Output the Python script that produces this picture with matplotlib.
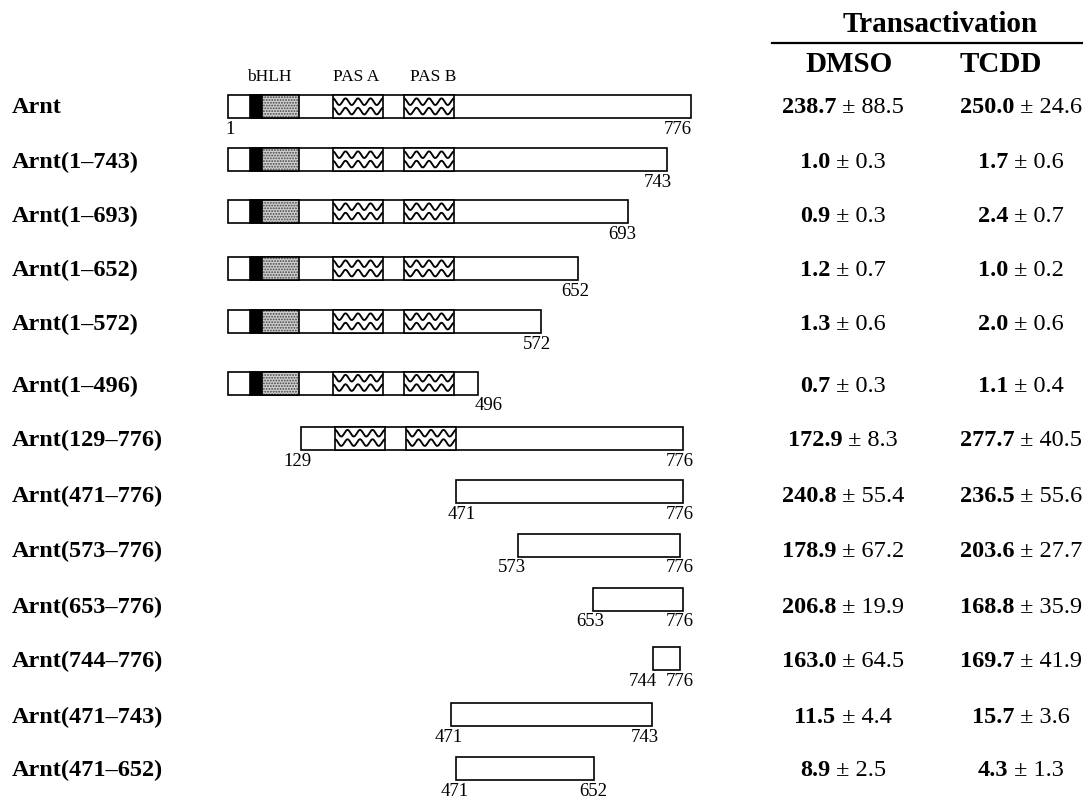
import numpy as np
import matplotlib
matplotlib.use("Agg")
import matplotlib.pyplot as plt

# ---------------- data ----------------
names = ["Arnt", "Arnt(1\u2013743)", "Arnt(1\u2013693)", "Arnt(1\u2013652)", "Arnt(1\u2013572)",
         "Arnt(1\u2013496)", "Arnt(129\u2013776)", "Arnt(471\u2013776)", "Arnt(573\u2013776)",
         "Arnt(653\u2013776)", "Arnt(744\u2013776)", "Arnt(471\u2013743)", "Arnt(471\u2013652)"]
res_start = [1, 1, 1, 1, 1, 1, 129, 471, 573, 653, 744, 471, 471]
res_end = [776, 743, 693, 652, 572, 496, 776, 776, 776, 776, 776, 743, 652]
show_start = [True, False, False, False, False, False, True, True, True, True, True, True, True]
dmso_mean = [238.7, 1.0, 0.9, 1.2, 1.3, 0.7, 172.9, 240.8, 178.9, 206.8, 163.0, 11.5, 8.9]
dmso_sd = [88.5, 0.3, 0.3, 0.7, 0.6, 0.3, 8.3, 55.4, 67.2, 19.9, 64.5, 4.4, 2.5]
tcdd_mean = [250.0, 1.7, 2.4, 1.0, 2.0, 1.1, 277.7, 236.5, 203.6, 168.8, 169.7, 15.7, 4.3]
tcdd_sd = [24.6, 0.6, 0.7, 0.2, 0.6, 0.4, 40.5, 55.6, 27.7, 35.9, 41.9, 3.6, 1.3]
domain_names = ["bHLH", "PAS A", "PAS B"]

# ---------------- layout (schematic, not to scale) ----------------
W, H = 1083, 798
row_y = [106.5, 159.5, 211.5, 268.5, 321.5, 383, 438, 491.5, 545, 599, 658.5, 714, 768.5]
text_y = [105, 160, 214, 268, 322, 384, 438, 494, 549, 605, 659, 715, 768]
draw_left = [228, 228, 228, 228, 228, 228, 301, 456, 518, 593, 653, 451, 456]
draw_right = [691, 667, 628, 578, 541, 478, 683, 683, 680, 683, 680, 652, 594]
left_lab_x = [230, 0, 0, 0, 0, 0, 297, 462, 512, 590, 643, 449, 455]
right_lab_x = [678, 658, 622, 575, 537, 489, 680, 680, 680, 680, 680, 645, 593]
blk = (250, 262)
stip = (262, 299)
pas_a = (333, 383)
pas_b = (404, 454)
bar_h = 23

SERIF = ["Liberation Serif", "DejaVu Serif"]
plt.rcParams["font.family"] = SERIF
plt.rcParams["hatch.linewidth"] = 0.9

fig = plt.figure(figsize=(W / 100, H / 100), dpi=100)
ax = fig.add_axes([0, 0, 1, 1])
ax.set_xlim(0, W)
ax.set_ylim(H, 0)
ax.axis("off")

LW = 1.2

def waves(x0, x1, yc):
    xs = np.linspace(x0, x1, 300)
    per = (x1 - x0) / 4.0
    for off in (-4.8, 4.6):
        ys = yc + off - 3.3 * np.cos(2 * np.pi * (xs - x0) / per)
        ax.plot(xs, ys, color="black", lw=1.35, solid_capstyle="butt", zorder=4)

for i in range(len(names)):
    yc = row_y[i]
    ax.barh(yc, draw_right[i] - draw_left[i], left=draw_left[i], height=bar_h,
            facecolor="white", edgecolor="black", linewidth=LW, zorder=2)
    if res_start[i] == 1:
        ax.barh(yc, blk[1] - blk[0], left=blk[0], height=bar_h, facecolor="black",
                edgecolor="black", linewidth=LW, zorder=3)
        ax.barh(yc, stip[1] - stip[0], left=stip[0], height=bar_h, facecolor="#cfcfcf",
                edgecolor="#444444", hatch="......", linewidth=0, zorder=3)
        ax.barh(yc, stip[1] - stip[0], left=stip[0], height=bar_h, facecolor="none",
                edgecolor="black", linewidth=LW, zorder=3)
    if res_start[i] < 200:
        for (a, b) in (pas_a, pas_b):
            if res_start[i] > 1:
                a2, b2 = a + 2, b + 2
            else:
                a2, b2 = a, b
            ax.barh(yc, b2 - a2, left=a2, height=bar_h, facecolor="white",
                    edgecolor="black", linewidth=LW, zorder=3)
            waves(a2, b2, yc)
    ly = yc + 23
    if show_start[i]:
        ax.text(left_lab_x[i], ly, str(res_start[i]), ha="center", va="center",
                fontsize=13.5, zorder=5)
    ax.text(right_lab_x[i], ly, str(res_end[i]), ha="center", va="center",
            fontsize=13.5, zorder=5)
    ax.text(12, text_y[i] + 8, names[i], ha="left", va="baseline", fontsize=17.5,
            fontweight="bold")

for nm, cx in zip(domain_names, [269, 356, 433]):
    ax.text(cx, 77, nm, ha="center", va="center", fontsize=12.5)

ax.text(940, 24, "Transactivation", ha="center", va="center", fontsize=21, fontweight="bold")
ax.plot([772, 1082], [42.5, 42.5], color="black", lw=1.6)
ax.text(849, 65, "DMSO", ha="center", va="center", fontsize=21, fontweight="bold")
ax.text(1001, 64, "TCDD", ha="center", va="center", fontsize=21, fontweight="bold")

renderer = fig.canvas.get_renderer()

def mixed(cx, yc, bold_s, reg_s, size=17.5):
    base = yc + 8.3
    t1 = ax.text(0, base, bold_s, ha="left", va="baseline", fontsize=size, fontweight="bold")
    t2 = ax.text(0, base, reg_s, ha="left", va="baseline", fontsize=size)
    w1 = t1.get_window_extent(renderer).width
    w2 = t2.get_window_extent(renderer).width
    x0 = cx - (w1 + w2) / 2
    t1.set_x(x0)
    t2.set_x(x0 + w1)

for i in range(len(names)):
    mixed(843, text_y[i], f"{dmso_mean[i]:.1f}", f" \u00b1 {dmso_sd[i]:.1f}")
    mixed(1021, text_y[i], f"{tcdd_mean[i]:.1f}", f" \u00b1 {tcdd_sd[i]:.1f}")

fig.savefig("out.png", dpi=100, facecolor="white")
